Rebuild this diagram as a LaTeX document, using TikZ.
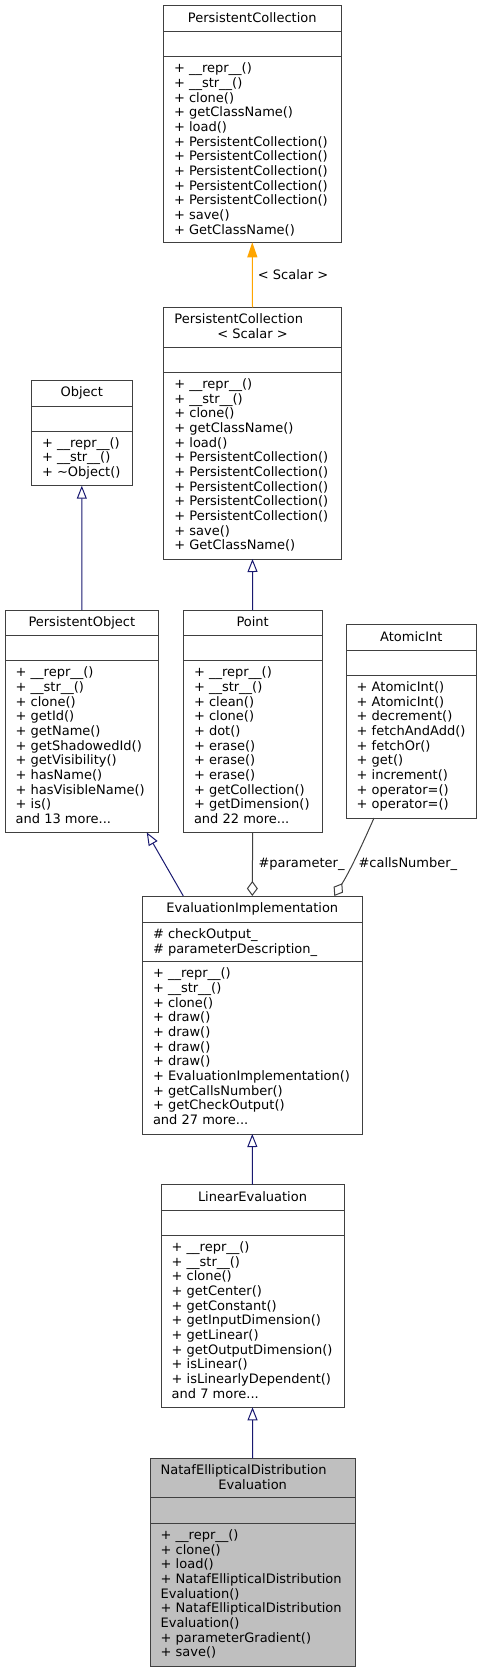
\documentclass[tikz,border=0pt]{standalone}
\usepackage{fontspec}
\setmainfont{DejaVu Sans}
\usepackage{tikz}
\usetikzlibrary{arrows.meta}
\definecolor{edgegray}{HTML}{404040}
\definecolor{midblue}{HTML}{191970}
\definecolor{tmplorange}{HTML}{FFA500}
\definecolor{natafgray}{HTML}{BFBFBF}

\begin{document}
\begin{tikzpicture}[x=1pt, y=-1pt,
    font=\fontsize{13}{14.67}\selectfont,
    cls/.style={draw=edgegray, line width=1pt, fill=white, inner sep=0pt, outer sep=0pt},
    divider/.style={draw=edgegray, line width=1pt},
    ttl/.style={anchor=north, inner sep=0pt, align=center},
    mth/.style={anchor=north west, inner sep=0pt, align=left},
    lbl/.style={anchor=base west, inner sep=0pt},
    inh/.style={draw=midblue, line width=1pt, -{Triangle[open, length=13pt, width=10pt]}},
    aggr/.style={draw=edgegray, line width=1pt, -{Diamond[open, length=15pt, width=11pt]}},
    tmpl/.style={draw=tmplorange, line width=1pt, -{Triangle[fill=tmplorange, length=15pt, width=10pt]}}]
    \useasboundingbox (0,0) rectangle (482,1672);

    % --- 1. 類別 PersistentCollection ---
    \node[cls, minimum width=178, minimum height=236.6] (pc) at (252.3,124) {};
    \draw[divider] (pc.west |- 0,31.7) -- (pc.east |- 0,31.7) (pc.west |- 0,56.7) -- (pc.east |- 0,56.7);
    \node[ttl] (pc_t) at (252.3,12.1) {PersistentCollection};
    \node[mth] (pc_m) at (173.8,62.8) {+ \_\_repr\_\_()\\+ \_\_str\_\_()\\+ clone()\\+ getClassName()\\+ load()\\+ PersistentCollection()\\+ PersistentCollection()\\+ PersistentCollection()\\+ PersistentCollection()\\+ PersistentCollection()\\+ save()\\+ GetClassName()};

    % --- 2. 類別 PersistentCollection< Scalar > ---
    \node[cls, minimum width=177.6, minimum height=251.7] (pcs) at (252.5,433.15) {};
    \draw[divider] (pcs.west |- 0,347) -- (pcs.east |- 0,347) (pcs.west |- 0,372.3) -- (pcs.east |- 0,372.3);
    \node[mth] (pcs_t1) at (174.2,313.7) {PersistentCollection};
    \node[ttl] (pcs_t2) at (252.5,328.4) {< Scalar >};
    \node[mth] (pcs_m) at (174.2,378.4) {+ \_\_repr\_\_()\\+ \_\_str\_\_()\\+ clone()\\+ getClassName()\\+ load()\\+ PersistentCollection()\\+ PersistentCollection()\\+ PersistentCollection()\\+ PersistentCollection()\\+ PersistentCollection()\\+ save()\\+ GetClassName()};

    % --- 3. 類別 Object ---
    \node[cls, minimum width=101, minimum height=105.4] (obj) at (81.8,433) {};
    \draw[divider] (obj.west |- 0,406) -- (obj.east |- 0,406) (obj.west |- 0,431) -- (obj.east |- 0,431);
    \node[ttl] (obj_t) at (81.8,386.7) {Object};
    \node[mth] (obj_m) at (41.8,437.1) {+ \_\_repr\_\_()\\+ \_\_str\_\_()\\+ \textasciitilde Object()};

    % --- 4. 類別 PersistentObject, Point, AtomicInt ---
    \node[cls, minimum width=153.7, minimum height=222.3] (po) at (81.85,721.15) {};
    \draw[divider] (po.west |- 0,635) -- (po.east |- 0,635) (po.west |- 0,660.7) -- (po.east |- 0,660.7);
    \node[ttl] (po_t) at (81.85,616.4) {PersistentObject};
    \node[mth] (po_m) at (15.5,666.8) {+ \_\_repr\_\_()\\+ \_\_str\_\_()\\+ clone()\\+ getId()\\+ getName()\\+ getShadowedId()\\+ getVisibility()\\+ hasName()\\+ hasVisibleName()\\+ is()\\and 13 more...};

    \node[cls, minimum width=138.7, minimum height=222.3] (pt) at (252.65,721.15) {};
    \draw[divider] (pt.west |- 0,635) -- (pt.east |- 0,635) (pt.west |- 0,660.7) -- (pt.east |- 0,660.7);
    \node[ttl] (pt_t) at (252.65,616.4) {Point};
    \node[mth] (pt_m) at (193.8,666.8) {+ \_\_repr\_\_()\\+ \_\_str\_\_()\\+ clean()\\+ clone()\\+ dot()\\+ erase()\\+ erase()\\+ erase()\\+ getCollection()\\+ getDimension()\\and 22 more...};

    \node[cls, minimum width=130.7, minimum height=193.3] (ai) at (411.35,721.35) {};
    \draw[divider] (ai.west |- 0,650) -- (ai.east |- 0,650) (ai.west |- 0,675.3) -- (ai.east |- 0,675.3);
    \node[ttl] (ai_t) at (411.35,631.1) {AtomicInt};
    \node[mth] (ai_m) at (356.5,681.4) {+ AtomicInt()\\+ AtomicInt()\\+ decrement()\\+ fetchAndAdd()\\+ fetchOr()\\+ get()\\+ increment()\\+ operator=()\\+ operator=()};

    % --- 5. 類別 EvaluationImplementation ---
    \node[cls, minimum width=220, minimum height=238] (ei) at (252.3,1015) {};
    \draw[divider] (ei.west |- 0,922.3) -- (ei.east |- 0,922.3) (ei.west |- 0,961.7) -- (ei.east |- 0,961.7);
    \node[ttl] (ei_t) at (252.3,902.4) {EvaluationImplementation};
    \node[mth] (ei_a) at (152.8,928.4) {\# checkOutput\_\\\# parameterDescription\_};
    \node[mth] (ei_m) at (152.8,967.8) {+ \_\_repr\_\_()\\+ \_\_str\_\_()\\+ clone()\\+ draw()\\+ draw()\\+ draw()\\+ draw()\\+ EvaluationImplementation()\\+ getCallsNumber()\\+ getCheckOutput()\\and 27 more...};

    % --- 6. 類別 LinearEvaluation ---
    \node[cls, minimum width=183, minimum height=222.6] (le) at (252.5,1296) {};
    \draw[divider] (le.west |- 0,1210) -- (le.east |- 0,1210) (le.west |- 0,1235.3) -- (le.east |- 0,1235.3);
    \node[ttl] (le_t) at (252.5,1191.1) {LinearEvaluation};
    \node[mth] (le_m) at (171.5,1241.4) {+ \_\_repr\_\_()\\+ \_\_str\_\_()\\+ clone()\\+ getCenter()\\+ getConstant()\\+ getInputDimension()\\+ getLinear()\\+ getOutputDimension()\\+ isLinear()\\+ isLinearlyDependent()\\and 7 more...};

    % --- 7. 類別 NatafEllipticalDistributionEvaluation (灰底) ---
    \node[cls, fill=natafgray, minimum width=205.3, minimum height=208.4] (nt) at (252.65,1562.5) {};
    \draw[divider] (nt.west |- 0,1497.7) -- (nt.east |- 0,1497.7) (nt.west |- 0,1523.3) -- (nt.east |- 0,1523.3);
    \node[mth] (nt_t1) at (160.5,1464.7) {NatafEllipticalDistribution};
    \node[ttl] (nt_t2) at (252.65,1479.4) {Evaluation};
    \node[mth] (nt_m) at (160.5,1529.4) {+ \_\_repr\_\_()\\+ clone()\\+ load()\\+ NatafEllipticalDistribution\\Evaluation()\\+ NatafEllipticalDistribution\\Evaluation()\\+ parameterGradient()\\+ save()};

    % --- 8. 繼承與模板關係 ---
    \draw[tmpl] (pcs.north) -- (pc.south);
    \node[lbl] (scalar_l) at (257.7,279.3) {< Scalar >};
    \draw[inh] (po.north) -- (obj.south);
    \draw[inh] (pt.north) -- (pcs.south);
    \coordinate (ei_po) at ([xshift=41]ei.north west);
    \coordinate (po_ei) at ([xshift=-12]po.south east);
    \draw[inh] (ei_po) -- (po_ei);
    \draw[inh] (le.north) -- (ei.south);
    \draw[inh] (nt.north) -- (le.south);

    % --- 9. 聚合關係 (菱形) ---
    \draw[aggr] (pt.south) -- (ei.north);
    \node[lbl] (param_l) at (258.3,867.5) {\#parameter\_};
    \coordinate (ai_ei) at ([xshift=28]ai.south west);
    \coordinate (ei_ai) at ([xshift=-28]ei.north east);
    \draw[aggr] (ai_ei) .. controls (363,843) and (350,871) .. (ei_ai);
    \node[lbl] (calls_l) at (358.3,867.5) {\#callsNumber\_};

\end{tikzpicture}
\end{document}
